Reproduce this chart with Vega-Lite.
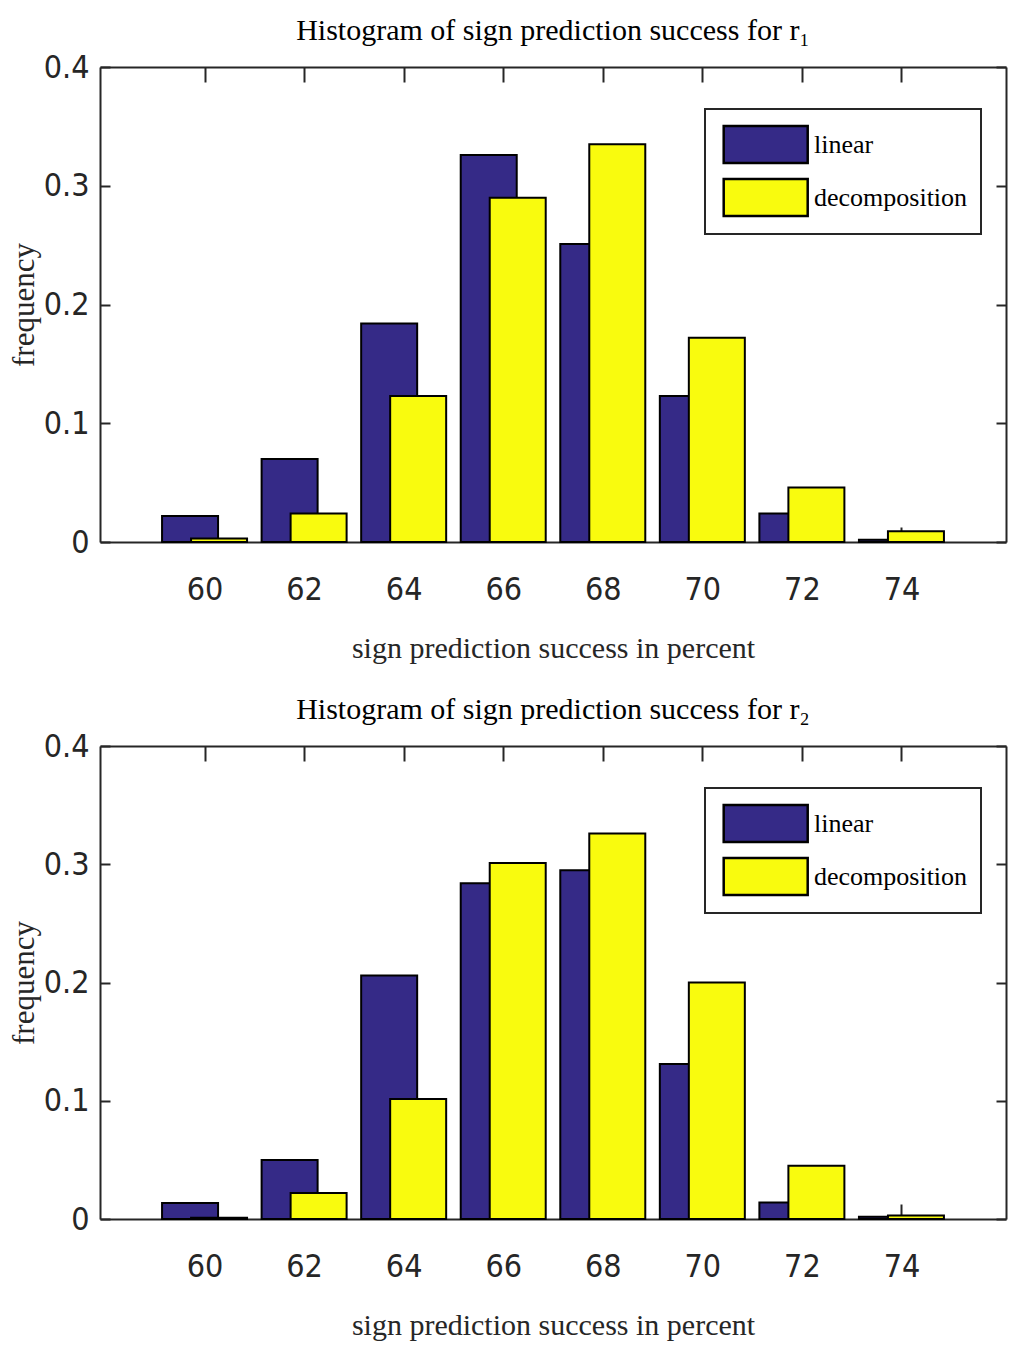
{
  "$schema": "https://vega.github.io/schema/vega-lite/v6.json",
  "background": "white",
  "padding": {"left": 8, "top": 16, "right": 5, "bottom": 5},
  "config": {
    "view": {"stroke": null},
    "font": "Liberation Serif",
    "axis": {
      "grid": false,
      "domainColor": "#262626",
      "domainWidth": 2,
      "tickColor": "#262626",
      "tickWidth": 2,
      "labelFont": "DejaVu Sans Condensed, Liberation Sans",
      "labelFontSize": 32,
      "labelColor": "#262626",
      "titleFont": "Liberation Serif",
      "titleFontWeight": "normal",
      "titleColor": "#262626"
    },
    "legend": {
      "symbolType": "M-0.8,-0.88H3.2V0.88H-0.8Z",
      "symbolSize": 1764,
      "symbolStrokeColor": "black",
      "symbolStrokeWidth": 2.5,
      "symbolOpacity": 1,
      "labelFont": "Liberation Serif",
      "labelFontSize": 26,
      "labelColor": "#000000",
      "labelOffset": 51,
      "labelLimit": 0,
      "rowPadding": 6,
      "padding": 13,
      "strokeColor": "#262626",
      "strokeWidth": 2,
      "fillColor": "white",
      "titleOpacity": 0
    },
    "title": {"font": "Liberation Serif", "fontSize": 30, "fontWeight": "normal", "color": "#000000"},
    "concat": {"spacing": 32}
  },
  "datasets": {
    "r1": [
      {"bin": 60, "method": "linear", "frequency": 0.022},
      {"bin": 62, "method": "linear", "frequency": 0.070},
      {"bin": 64, "method": "linear", "frequency": 0.184},
      {"bin": 66, "method": "linear", "frequency": 0.326},
      {"bin": 68, "method": "linear", "frequency": 0.251},
      {"bin": 70, "method": "linear", "frequency": 0.123},
      {"bin": 72, "method": "linear", "frequency": 0.024},
      {"bin": 74, "method": "linear", "frequency": 0.002},
      {"bin": 60, "method": "decomposition", "frequency": 0.003},
      {"bin": 62, "method": "decomposition", "frequency": 0.024},
      {"bin": 64, "method": "decomposition", "frequency": 0.123},
      {"bin": 66, "method": "decomposition", "frequency": 0.290},
      {"bin": 68, "method": "decomposition", "frequency": 0.335},
      {"bin": 70, "method": "decomposition", "frequency": 0.172},
      {"bin": 72, "method": "decomposition", "frequency": 0.046},
      {"bin": 74, "method": "decomposition", "frequency": 0.009}
    ],
    "r2": [
      {"bin": 60, "method": "linear", "frequency": 0.0135},
      {"bin": 62, "method": "linear", "frequency": 0.050},
      {"bin": 64, "method": "linear", "frequency": 0.206},
      {"bin": 66, "method": "linear", "frequency": 0.284},
      {"bin": 68, "method": "linear", "frequency": 0.295},
      {"bin": 70, "method": "linear", "frequency": 0.131},
      {"bin": 72, "method": "linear", "frequency": 0.014},
      {"bin": 74, "method": "linear", "frequency": 0.002},
      {"bin": 60, "method": "decomposition", "frequency": 0.001},
      {"bin": 62, "method": "decomposition", "frequency": 0.022},
      {"bin": 64, "method": "decomposition", "frequency": 0.1015},
      {"bin": 66, "method": "decomposition", "frequency": 0.301},
      {"bin": 68, "method": "decomposition", "frequency": 0.326},
      {"bin": 70, "method": "decomposition", "frequency": 0.200},
      {"bin": 72, "method": "decomposition", "frequency": 0.045},
      {"bin": 74, "method": "decomposition", "frequency": 0.003}
    ]
  },
  "vconcat": [
    {
      "title": {"text": "Histogram of sign prediction success for r₁", "offset": 5},
      "width": 906,
      "height": 475,
      "data": {"name": "r1"},
      "layer": [
        {
          "transform": [{"filter": "datum.method === 'linear'"}],
          "mark": {"type": "bar", "width": 56, "xOffset": -14.5, "stroke": "black", "strokeWidth": 2},
          "encoding": {
            "x": {"field": "bin", "type": "quantitative", "scale": {"domain": [58, 76], "nice": false, "zero": false},
                  "axis": {"orient": "bottom", "values": [60, 62, 64, 66, 68, 70, 72, 74], "tickSize": -15, "labelPadding": 47, "title": "sign prediction success in percent", "titleFontSize": 30, "titlePadding": 28}},
            "y": {"field": "frequency", "type": "quantitative", "scale": {"domain": [0, 0.4], "nice": false},
                  "axis": {"orient": "left", "values": [0, 0.1, 0.2, 0.3, 0.4], "format": "~g", "tickSize": -10, "labelPadding": 21, "title": "frequency", "titleFontSize": 31, "titlePadding": 3}},
            "color": {"field": "method", "type": "nominal", "scale": {"domain": ["linear", "decomposition"], "range": ["#352a87", "#f9fb0e"]},
                      "legend": {"title": null, "orient": "none", "legendX": 605, "legendY": 42}}
          }
        },
        {
          "transform": [{"filter": "datum.method === 'decomposition'"}],
          "mark": {"type": "bar", "width": 56, "xOffset": 14.5, "stroke": "black", "strokeWidth": 2},
          "encoding": {
            "x": {"field": "bin", "type": "quantitative", "scale": {"domain": [58, 76], "nice": false, "zero": false},
                  "axis": {"orient": "top", "values": [60, 62, 64, 66, 68, 70, 72, 74], "tickSize": -15, "labels": false, "title": null}},
            "y": {"field": "frequency", "type": "quantitative", "scale": {"domain": [0, 0.4], "nice": false},
                  "axis": {"orient": "right", "values": [0, 0.1, 0.2, 0.3, 0.4], "tickSize": -10, "labels": false, "title": null}},
            "color": {"field": "method", "type": "nominal", "scale": {"domain": ["linear", "decomposition"], "range": ["#352a87", "#f9fb0e"]},
                      "legend": {"title": null, "orient": "none", "legendX": 605, "legendY": 42}}
          }
        }
      ],
      "resolve": {"axis": {"x": "independent", "y": "independent"}}
    },
    {
      "title": {"text": "Histogram of sign prediction success for r₂", "offset": 5},
      "width": 906,
      "height": 473,
      "data": {"name": "r2"},
      "layer": [
        {
          "transform": [{"filter": "datum.method === 'linear'"}],
          "mark": {"type": "bar", "width": 56, "xOffset": -14.5, "stroke": "black", "strokeWidth": 2},
          "encoding": {
            "x": {"field": "bin", "type": "quantitative", "scale": {"domain": [58, 76], "nice": false, "zero": false},
                  "axis": {"orient": "bottom", "values": [60, 62, 64, 66, 68, 70, 72, 74], "tickSize": -15, "labelPadding": 47, "title": "sign prediction success in percent", "titleFontSize": 30, "titlePadding": 28}},
            "y": {"field": "frequency", "type": "quantitative", "scale": {"domain": [0, 0.4], "nice": false},
                  "axis": {"orient": "left", "values": [0, 0.1, 0.2, 0.3, 0.4], "format": "~g", "tickSize": -10, "labelPadding": 21, "title": "frequency", "titleFontSize": 31, "titlePadding": 3}},
            "color": {"field": "method", "type": "nominal", "scale": {"domain": ["linear", "decomposition"], "range": ["#352a87", "#f9fb0e"]},
                      "legend": {"title": null, "orient": "none", "legendX": 605, "legendY": 42}}
          }
        },
        {
          "transform": [{"filter": "datum.method === 'decomposition'"}],
          "mark": {"type": "bar", "width": 56, "xOffset": 14.5, "stroke": "black", "strokeWidth": 2},
          "encoding": {
            "x": {"field": "bin", "type": "quantitative", "scale": {"domain": [58, 76], "nice": false, "zero": false},
                  "axis": {"orient": "top", "values": [60, 62, 64, 66, 68, 70, 72, 74], "tickSize": -15, "labels": false, "title": null}},
            "y": {"field": "frequency", "type": "quantitative", "scale": {"domain": [0, 0.4], "nice": false},
                  "axis": {"orient": "right", "values": [0, 0.1, 0.2, 0.3, 0.4], "tickSize": -10, "labels": false, "title": null}},
            "color": {"field": "method", "type": "nominal", "scale": {"domain": ["linear", "decomposition"], "range": ["#352a87", "#f9fb0e"]},
                      "legend": {"title": null, "orient": "none", "legendX": 605, "legendY": 42}}
          }
        }
      ],
      "resolve": {"axis": {"x": "independent", "y": "independent"}}
    }
  ],
  "resolve": {"scale": {"color": "independent"}, "legend": {"color": "independent"}}
}
